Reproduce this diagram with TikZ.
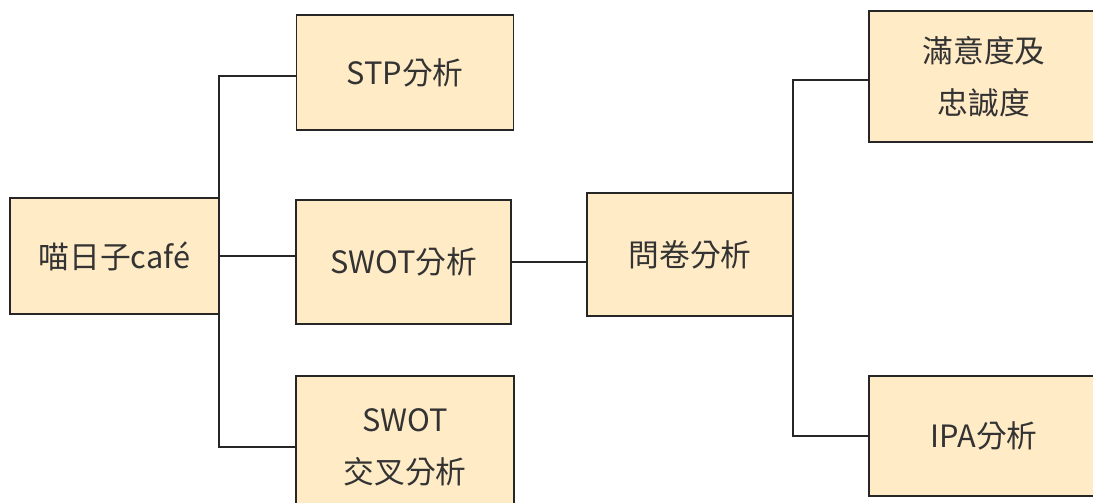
\documentclass[tikz,border=0pt]{standalone}
\usepackage{fontspec}
\setmainfont{Noto Sans CJK TC}
\definecolor{boxFill}{RGB}{255,235,198}
\definecolor{boxLine}{RGB}{38,38,38}
\definecolor{boxText}{RGB}{51,51,51}

\begin{document}
\begin{tikzpicture}
[lineDecorate/.style={-,line width=1.1pt,draw=boxLine},%
  nodeDecorate/.style={shape=rectangle,inner sep=0pt,outer sep=0pt,draw=boxLine,
    line width=1.1pt,fill=boxFill,text=boxText,align=center},%
  x=0.02cm,y=-0.02cm]
\fontsize{17.5pt}{29.5pt}\selectfont
\useasboundingbox (0,0) rectangle (1093,503);
\clip (0,0) rectangle (1093,503);
%% nodes or vertices
\foreach \nodename/\x/\y/\w/\h/\nodetext in {%
  cafe/114.3/256/209.5/116.5/{喵日子café},
  stp/405/72.5/217/115/{STP分析},
  swot/403.5/262/215/124/{SWOT分析},
  cross/405/447/218/142/{SWOT\\交叉分析},
  survey/690/254.5/206/123/{問卷分析},
  loyal/984/76.5/230/131/{滿意度及\\忠誠度},
  ipa/984/436/230/120/{IPA分析}}
{
  \node (\nodename) at (\x,\y) [nodeDecorate,minimum width=\w*0.02cm,
    minimum height=\h*0.02cm] {\nodetext};
}
%% edges or lines
\draw[lineDecorate] ([yshift=-0.064cm]stp.west) -| (cafe.east |- cross.west)
  -- (cross.west);
\draw[lineDecorate] (cafe.east) -- (cafe.east -| swot.west);
\draw[lineDecorate] (swot.east) -- (swot.east -| survey.west);
\draw[lineDecorate] ([yshift=-0.07cm]loyal.west) -| (survey.east |- ipa.west)
  -- (ipa.west);
\end{tikzpicture}
\end{document}
